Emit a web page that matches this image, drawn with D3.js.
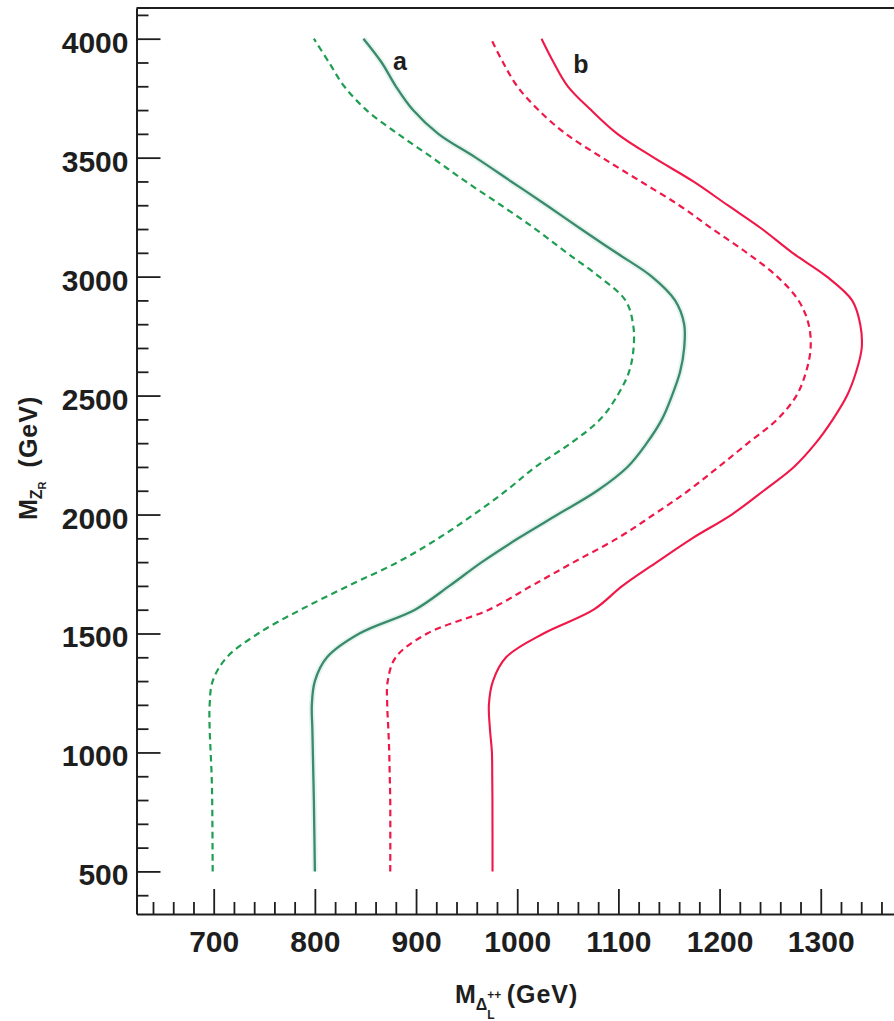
<!DOCTYPE html>
<html>
<head>
<meta charset="utf-8">
<script src="https://cdn.jsdelivr.net/npm/d3@7"></script>
<style>
  html, body { margin: 0; padding: 0; background: #fff; }
  svg { display: block; }
</style>
</head>
<body>
<svg id="chart" width="894" height="1021"></svg>
<script>
// M_ZR sampling levels (GeV) shared by all four contours
const mZR = [500, 800, 900, 1000, 1100, 1200, 1300, 1400, 1500, 1600, 1700, 1800, 1900,
             2000, 2100, 2200, 2300, 2400, 2500, 2600, 2700, 2800, 2900,
             3000, 3100, 3200, 3300, 3400, 3500, 3600, 3700, 3800, 3900, 4000];

// M_Delta_L++ (GeV) on each contour, one value per M_ZR level
const aSolid  = [800, 799, 798.5, 798, 797.5, 797, 800, 812, 844, 899, 933, 965, 1001,
                 1040, 1079, 1109, 1128, 1143, 1153, 1161, 1165, 1165, 1156,
                 1133, 1098, 1063, 1029, 994, 959, 922, 897, 880, 866, 848];
const aDashed = [699, 698.5, 698, 697, 696, 696, 699, 713, 744, 786, 833, 882, 922,
                 957, 989, 1018, 1053, 1082, 1099, 1110.5, 1115, 1114.5, 1107,
                 1081, 1049, 1018, 984, 949, 916, 882, 851, 829, 814, 799];
const bSolid  = [975.6, 975.5, 975.3, 975, 973, 972, 976, 989, 1026, 1075.5, 1104, 1138, 1173,
                 1212, 1243.5, 1273.5, 1295, 1312, 1326, 1335, 1340.5, 1339, 1331,
                 1306, 1272, 1242, 1208, 1174, 1135, 1099, 1073, 1050, 1036, 1024];
const bDashed = [874.5, 874.5, 874, 873.5, 872.6, 871.5, 872, 880, 911, 972, 1014, 1056, 1099,
                 1135, 1169, 1199, 1228, 1257, 1276, 1285.5, 1290, 1288, 1278,
                 1257, 1227, 1193, 1160, 1122, 1084, 1048, 1021, 1000, 986, 974];

// Axis ticks
const yMajor = [500, 1000, 1500, 2000, 2500, 3000, 3500, 4000];
const yMinor = d3.range(400, 4101, 100).filter(v => v % 500 !== 0);
const xMajor = [700, 800, 900, 1000, 1100, 1200, 1300];
const xMinor = d3.range(640, 1361, 20).filter(v => v % 100 !== 0);

// Curve labels
const curveLabels = [
  { text: "a", x: 884, y: 3868 },
  { text: "b", x: 1063, y: 3856 }
];

const svg = d3.select("#chart");
const FONT = "'Liberation Sans', Arial, Helvetica, sans-serif";
const INK = "#1e1e1e";

const x = d3.scaleLinear().domain([623.7, 1372.4]).range([136.5, 894]);
const y = d3.scaleLinear().domain([321, 4129]).range([914, 8]);

// Frame top edge
svg.append("line")
  .attr("x1", x.range()[0]).attr("x2", x.range()[1])
  .attr("y1", y.range()[1]).attr("y2", y.range()[1])
  .attr("stroke", INK).attr("stroke-width", 2);

function styleAxis(g) {
  g.selectAll("path.domain").attr("stroke", INK).attr("stroke-width", 2);
  g.selectAll(".tick line").attr("stroke", INK).attr("stroke-width", 1.8);
  g.selectAll("text")
    .attr("fill", INK)
    .style("font-family", FONT)
    .style("font-weight", "bold")
    .style("font-size", "30px");
}

// Y axis: minor then major ticks pointing inward
svg.append("g")
  .attr("transform", `translate(${x.range()[0]},0)`)
  .call(d3.axisLeft(y).tickValues(yMinor).tickSize(-12).tickSizeOuter(0).tickFormat(""))
  .call(g => g.select("path.domain").remove())
  .call(styleAxis);

svg.append("g")
  .attr("transform", `translate(${x.range()[0]},0)`)
  .call(d3.axisLeft(y).tickValues(yMajor).tickSize(-24).tickSizeOuter(0).tickPadding(8).tickFormat(d3.format("d")))
  .call(styleAxis)
  .call(g => g.selectAll("text").attr("dy", "0.45em"));

// X axis
svg.append("g")
  .attr("transform", `translate(0,${y.range()[0]})`)
  .call(d3.axisBottom(x).tickValues(xMinor).tickSize(-12).tickSizeOuter(0).tickFormat(""))
  .call(g => g.select("path.domain").remove())
  .call(styleAxis);

svg.append("g")
  .attr("transform", `translate(0,${y.range()[0]})`)
  .call(d3.axisBottom(x).tickValues(xMajor).tickSize(-25).tickSizeOuter(0).tickPadding(16.5).tickFormat(d3.format("d")))
  .call(styleAxis);

// Contours
const line = d3.line()
  .x(d => x(d[1]))
  .y(d => y(d[0]))
  .curve(d3.curveCatmullRom.alpha(0.5));

const series = [
  { values: aDashed, color: "#1f9e52", width: 2.2, dash: "6.5,4.5" },
  { values: aSolid,  color: "#3a8a6b", width: 2.3, dash: null, halo: "#d6ede4" },
  { values: bDashed, color: "#ef1848", width: 2.2, dash: "6.5,4.5" },
  { values: bSolid,  color: "#ef1848", width: 2.1, dash: null }
];

const plot = svg.append("g");
series.forEach(s => {
  const pts = mZR.map((z, i) => [z, s.values[i]]);
  if (s.halo) {
    plot.append("path")
      .attr("d", line(pts))
      .attr("fill", "none")
      .attr("stroke", s.halo)
      .attr("stroke-width", 6)
      .attr("stroke-opacity", 0.6);
  }
  plot.append("path")
    .attr("d", line(pts))
    .attr("fill", "none")
    .attr("stroke", s.color)
    .attr("stroke-width", s.width)
    .attr("stroke-dasharray", s.dash);
});

// Curve labels
svg.selectAll("text.curve-label")
  .data(curveLabels)
  .join("text")
  .attr("class", "curve-label")
  .attr("x", d => x(d.x))
  .attr("y", d => y(d.y))
  .attr("text-anchor", "middle")
  .attr("fill", INK)
  .style("font-family", FONT)
  .style("font-weight", "bold")
  .style("font-size", "25px")
  .text(d => d.text);

// X axis title: M_{Delta_L^{++}} (GeV)
const xt = svg.append("text")
  .attr("x", 455).attr("y", 1003)
  .attr("fill", INK)
  .style("font-family", FONT)
  .style("font-weight", "bold")
  .style("font-size", "25px");
xt.append("tspan").text("M");
xt.append("tspan").attr("dy", 7).style("font-size", "16px").text("Δ");
xt.append("tspan").attr("dy", -11).style("font-size", "12px").text("++");
xt.append("tspan").attr("dx", -14).attr("dy", 20).style("font-size", "12px").text("L");
xt.append("tspan").attr("dx", 12).attr("dy", -16).style("letter-spacing", "1px").text("(GeV)");

// Y axis title: M_{Z_R} (GeV)
const yt = svg.append("text")
  .attr("transform", "translate(37,520) rotate(-90)")
  .attr("fill", INK)
  .style("font-family", FONT)
  .style("font-weight", "bold")
  .style("font-size", "25px");
yt.append("tspan").text("M");
yt.append("tspan").attr("dy", 5).style("font-size", "16px").text("Z");
yt.append("tspan").attr("dy", 4).style("font-size", "11px").text("R");
yt.append("tspan").attr("dx", 14).attr("dy", -9).style("letter-spacing", "1px").text("(GeV)");
</script>
</body>
</html>
